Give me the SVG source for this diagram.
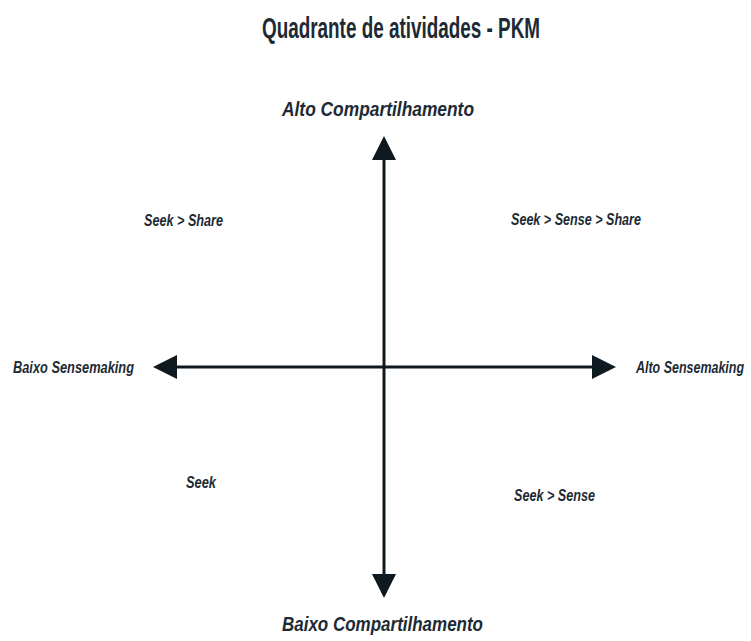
<svg xmlns="http://www.w3.org/2000/svg" width="751" height="641" viewBox="0 0 751 641">
<style>
text{font-family:"Liberation Sans",Arial,sans-serif;fill:#1d2a33;}
.t{font-size:29px;font-weight:bold;}
.ax{font-size:21px;font-weight:bold;font-style:italic;}
.sm{font-size:17px;font-weight:bold;font-style:italic;}
.q{font-size:17px;font-weight:bold;font-style:italic;}
.line{stroke:#0f1a20;stroke-width:3;fill:none;}
</style>
<defs>
<marker id="ah" markerWidth="8" markerHeight="8" refX="1" refY="4" orient="auto" markerUnits="strokeWidth" viewBox="0 0 8 8">
<path d="M0,0 L8,4 L0,8 Z" fill="#0f1a20"/>
</marker>
</defs>
<rect width="751" height="641" fill="#fff"/>
<g id="title"><text class="t" x="262" y="38" textLength="278" lengthAdjust="spacingAndGlyphs">Quadrante de atividades - PKM</text></g>
<g id="connectors">
<line class="line" x1="384" y1="367" x2="384" y2="157" marker-end="url(#ah)"/>
<line class="line" x1="384" y1="367" x2="384" y2="577" marker-end="url(#ah)"/>
<line class="line" x1="384" y1="367" x2="174" y2="367" marker-end="url(#ah)"/>
<line class="line" x1="384" y1="367" x2="595" y2="367" marker-end="url(#ah)"/>
</g>
<g id="alto-compartilhamento"><text class="ax" x="282" y="116" textLength="192" lengthAdjust="spacingAndGlyphs">Alto Compartilhamento</text></g>
<g id="baixo-compartilhamento"><text class="ax" x="282" y="631" textLength="201" lengthAdjust="spacingAndGlyphs">Baixo Compartilhamento</text></g>
<g id="baixo-sensemaking"><text class="sm" x="13" y="373" textLength="121" lengthAdjust="spacingAndGlyphs">Baixo Sensemaking</text></g>
<g id="alto-sensemaking"><text class="sm" text-anchor="end" x="744" y="373" textLength="108" lengthAdjust="spacingAndGlyphs">Alto Sensemaking</text></g>
<g id="q-seek-share"><text class="q" x="144" y="226" textLength="79" lengthAdjust="spacingAndGlyphs">Seek &gt; Share</text></g>
<g id="q-seek-sense-share"><text class="q" x="511" y="225" textLength="130" lengthAdjust="spacingAndGlyphs">Seek &gt; Sense &gt; Share</text></g>
<g id="q-seek"><text class="q" x="186" y="488" textLength="30" lengthAdjust="spacingAndGlyphs">Seek</text></g>
<g id="q-seek-sense"><text class="q" x="514" y="501" textLength="81" lengthAdjust="spacingAndGlyphs">Seek &gt; Sense</text></g>
</svg>
